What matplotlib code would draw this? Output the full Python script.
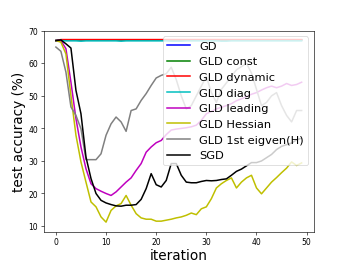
import matplotlib
matplotlib.use('Agg')
import matplotlib.pyplot as plt
import numpy as np

iterations = np.arange(50)

# flat runs
gd = [67.0] + [67.2] * 49
gld_const = [67.0] + [67.2] * 49
gld_dynamic = [67.0] + [67.3] * 49
gld_diag = [67.0, 67.0, 66.9, 66.9, 66.9, 66.8, 66.9, 66.9, 66.9, 66.9,
            66.9, 66.9, 66.9, 66.8, 66.9, 66.9, 66.9, 66.9, 66.9, 66.9,
            66.9, 66.9, 66.9, 66.8, 66.8, 66.8, 66.9, 66.9, 66.9, 66.9,
            66.9, 66.9, 66.9, 66.8, 66.8, 66.9, 66.9, 66.9, 66.9, 66.9,
            66.9, 66.9, 66.9, 66.9, 66.9, 66.9, 66.9, 66.9, 66.9, 66.9]

gld_leading = [67.0, 67.0, 64.5, 54.2, 43.0, 34.3, 27.6, 23.0, 21.5, 20.7,
               20.0, 19.4, 20.5, 22.0, 23.5, 24.8, 27.1, 29.2, 32.7, 34.3,
               35.6, 36.3, 38.1, 39.5, 39.8, 40.0, 40.2, 40.5, 41.0, 42.5,
               44.5, 45.2, 46.0, 46.5, 47.0, 47.6, 48.5, 49.1, 49.8, 50.5,
               51.0, 51.8, 52.5, 53.0, 52.5, 53.0, 53.8, 53.2, 53.5, 54.2]

gld_hessian = [67.0, 66.5, 62.9, 50.1, 37.9, 29.7, 23.5, 17.4, 15.9, 12.8,
               11.2, 14.8, 16.2, 16.9, 19.4, 16.4, 13.8, 12.5, 12.1, 12.1,
               11.5, 11.5, 11.8, 12.1, 12.5, 12.8, 13.3, 14.0, 13.5, 15.3,
               15.9, 18.4, 21.7, 23.0, 24.0, 24.8, 21.7, 23.5, 24.8, 25.6,
               21.7, 19.9, 21.7, 23.5, 24.9, 26.4, 27.8, 29.7, 28.6, 29.4]

gld_eig = [65.0, 63.7, 57.3, 46.6, 44.0, 39.9, 30.4, 30.4, 30.4, 32.2,
           37.9, 41.4, 43.5, 42.0, 39.1, 45.5, 46.0, 48.6, 50.7, 53.2,
           55.5, 56.3, 56.8, 58.8, 55.0, 50.0, 46.0, 47.0, 50.0, 53.0,
           56.0, 51.0, 48.0, 52.0, 54.0, 56.0, 58.0, 59.0, 60.0, 57.0,
           52.0, 47.0, 48.0, 50.0, 51.0, 47.0, 44.0, 42.0, 45.5, 45.5]

sgd = [67.0, 67.2, 66.0, 64.7, 51.7, 44.5, 31.2, 24.6, 20.0, 17.9,
       17.1, 16.6, 16.2, 16.1, 16.4, 16.4, 16.6, 18.2, 21.5, 26.1,
       22.7, 22.0, 24.0, 29.2, 29.2, 25.6, 23.5, 23.3, 23.3, 23.7,
       24.0, 23.9, 24.0, 24.3, 24.5, 25.6, 26.8, 27.5, 28.5, 29.5,
       29.5, 30.0, 31.0, 32.0, 33.5, 34.5, 35.0, 35.5, 36.5, 37.0]

plt.rcParams['lines.linewidth'] = 2

fig, ax = plt.subplots(figsize=(6.4, 4.8), dpi=54.5)
ax.plot(iterations, gd, 'b', label='GD')
ax.plot(iterations, gld_const, 'g', label='GLD const')
ax.plot(iterations, gld_dynamic, 'r', label='GLD dynamic')
ax.plot(iterations, gld_diag, 'c', label='GLD diag')
ax.plot(iterations, gld_leading, 'm', label='GLD leading')
ax.plot(iterations, gld_hessian, 'y', label='GLD Hessian')
ax.plot(iterations, gld_eig, color='gray', label='GLD 1st eigven(H)')
ax.plot(iterations, sgd, 'k', label='SGD')
ax.set_ylim(8.1, 70)
ax.set_xlabel('iteration', fontsize=18, labelpad=2)
ax.set_ylabel('test accuracy (%)', fontsize=18)
ax.legend(loc='upper right', fontsize=15)
fig.savefig('out.png')
